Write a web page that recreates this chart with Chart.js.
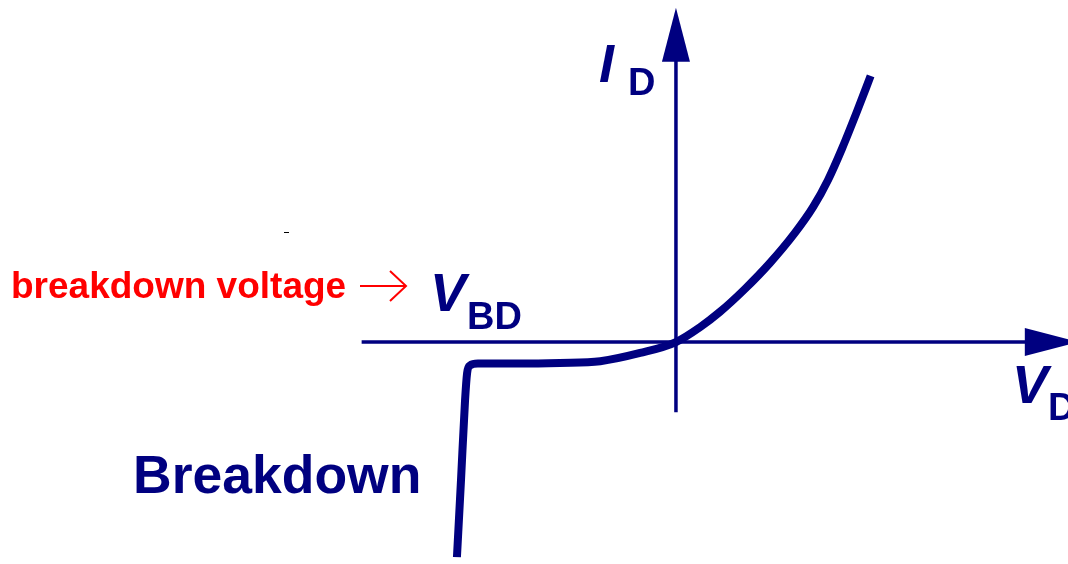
<!DOCTYPE html>
<html>
<head>
<meta charset="utf-8">
<script src="https://cdn.jsdelivr.net/npm/chart.js@4"></script>
<style>
  html, body { margin: 0; padding: 0; background: #fff; }
  #wrap { width: 1068px; height: 564px; }
</style>
</head>
<body>
<div id="wrap"><canvas id="diode" width="1068" height="564"></canvas></div>
<script>
// diode I-V curve (arbitrary units)
const voltage = [-3.24, -3.18, -3.12, -3.09, -3.05, -2.93, -2.31, -1.72, -1.12, -0.53, 0,
                 0.36, 0.65, 1.02, 1.39, 1.76, 2.03, 2.25, 2.46, 2.68, 2.88];
const current = [-6.29, -4.04, -1.70, -0.91, -0.69, -0.63, -0.63, -0.61, -0.56, -0.32, 0,
                 0.44, 0.88, 1.55, 2.31, 3.19, 3.95, 4.74, 5.67, 6.75, 7.78];

const navy = '#000080';

// axes with arrow heads, drawn through the scales
const axesPlugin = {
    id: 'axes',
    beforeDatasetsDraw(chart) {
        const { ctx, scales: { x, y } } = chart;
        const x0 = x.getPixelForValue(0);
        const y0 = y.getPixelForValue(0);
        const left = x.getPixelForValue(-4.65);
        const right = x.getPixelForValue(5.96);
        const bottom = y.getPixelForValue(-2.05);
        const top = y.getPixelForValue(9.77);
        ctx.save();
        ctx.strokeStyle = navy;
        ctx.fillStyle = navy;
        ctx.lineWidth = 3.5;
        ctx.beginPath();
        ctx.moveTo(left, y0);
        ctx.lineTo(right - 50, y0);
        ctx.moveTo(x0, bottom);
        ctx.lineTo(x0, top + 50);
        ctx.stroke();
        // arrow heads
        ctx.beginPath();
        ctx.moveTo(right, y0);
        ctx.lineTo(right - 54, y0 - 14);
        ctx.lineTo(right - 54, y0 + 14);
        ctx.closePath();
        ctx.fill();
        ctx.beginPath();
        ctx.moveTo(x0, top);
        ctx.lineTo(x0 - 14, top + 54);
        ctx.lineTo(x0 + 14, top + 54);
        ctx.closePath();
        ctx.fill();
        ctx.restore();
    }
};

// labels
const labelPlugin = {
    id: 'labels',
    afterDraw(chart) {
        const { ctx } = chart;
        ctx.save();
        ctx.textBaseline = 'alphabetic';
        ctx.textAlign = 'left';
        ctx.fillStyle = navy;
        const big = 'italic bold 54px "Liberation Sans", Arial, sans-serif';
        const sub = 'bold 38px "Liberation Sans", Arial, sans-serif';

        ctx.font = big;
        ctx.fillText('I', 599, 82);
        ctx.font = sub;
        ctx.fillText('D', 628, 95);

        ctx.font = big;
        ctx.fillText('V', 430, 311);
        ctx.font = sub;
        ctx.fillText('BD', 467, 329);

        ctx.font = big;
        ctx.fillText('V', 1012, 403);
        ctx.font = sub;
        ctx.fillText('D', 1048, 420);

        ctx.font = 'bold 53.5px "Liberation Sans", Arial, sans-serif';
        ctx.fillText('Breakdown', 133, 493);

        ctx.fillStyle = '#ff0000';
        ctx.font = 'bold 37px "Liberation Sans", Arial, sans-serif';
        ctx.fillText('breakdown voltage', 11, 298);

        // thin red arrow
        ctx.strokeStyle = '#ff0000';
        ctx.lineWidth = 2;
        ctx.beginPath();
        ctx.moveTo(360, 286);
        ctx.lineTo(406, 286);
        ctx.moveTo(390, 271);
        ctx.lineTo(406, 286);
        ctx.lineTo(390, 301);
        ctx.stroke();

        // small stray dash
        ctx.fillStyle = '#000';
        ctx.fillRect(284, 232, 5, 1);
        ctx.restore();
    }
};

const data = {
    datasets: [{
        data: voltage.map((v, i) => ({ x: v, y: current[i] })),
        borderColor: navy,
        borderWidth: 8,
        pointRadius: 0,
        cubicInterpolationMode: 'monotone',
        borderJoinStyle: 'round',
        fill: false,
        clip: false
    }]
};

const options = {
    responsive: false,
    animation: false,
    devicePixelRatio: 1,
    layout: { padding: 0, autoPadding: false },
    plugins: {
        legend: { display: false },
        tooltip: { enabled: false }
    },
    scales: {
        x: { type: 'linear', min: -10, max: 5.8, display: false },
        y: { type: 'linear', min: -6.49, max: 10, display: false }
    }
};

const chart = new Chart(document.getElementById('diode'), {
    type: 'line',
    data: data,
    options: options,
    plugins: [axesPlugin, labelPlugin]
});
</script>
</body>
</html>
